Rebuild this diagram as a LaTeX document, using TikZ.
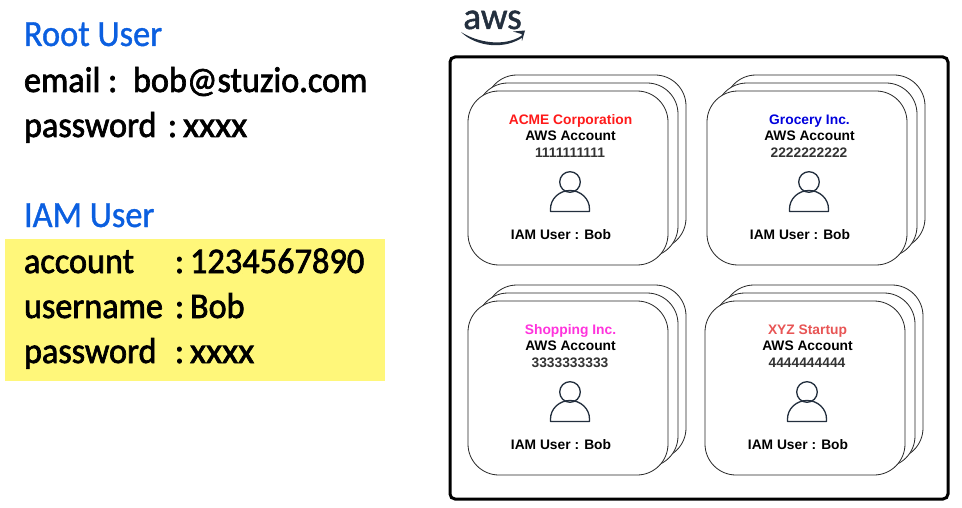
\documentclass[tikz,border=0pt]{standalone}
\usepackage{fontspec}
\setmainfont{Liberation Sans}
\newfontfamily\leftfont[FakeBold=1.9,FakeStretch=0.95]{Carlito}
\newfontfamily\digitfont[FakeBold=1.9,FakeStretch=0.955]{Carlito}
\newfontfamily\xfont[FakeBold=1.9,FakeStretch=1.03]{Carlito}
\newfontfamily\headfont[FakeBold=1,FakeStretch=0.93]{Carlito}
\newfontfamily\logofont[FakeBold=1.2,FakeStretch=0.98]{Carlito}
\definecolor{headblue}{HTML}{0B5FE0}
\definecolor{hilite}{HTML}{FFF77A}
\definecolor{awsink}{HTML}{232F3E}
\definecolor{acme}{HTML}{FF1A1A}
\definecolor{grocery}{HTML}{0000DD}
\definecolor{shopping}{HTML}{FF33DD}
\definecolor{xyz}{HTML}{E85555}
\definecolor{numgray}{HTML}{333333}
\tikzset{
  x=1pt,y=-1pt,
  heading/.style={anchor=base west,inner sep=0pt,outer sep=0pt,text=headblue,font=\headfont\fontsize{37}{37}\selectfont},
  leftline/.style={anchor=base west,inner sep=0pt,outer sep=0pt,text=black,font=\leftfont\fontsize{36}{36}\selectfont},
  sheet/.style={draw=black!85,fill=white,line width=0.8pt,rounded corners=31pt},
  cardtext/.style={anchor=base,inner sep=0pt,outer sep=0pt,font=\bfseries\fontsize{13.8}{13.8}\selectfont},
  usericon/.style={draw=awsink,line width=1.3pt},
}
% #1 name, #2 left x, #3 top y, #4 org text, #5 org colour, #6 number
\newcommand{\accountcard}[6]{%
  \begin{scope}[shift={(#2,#3)}]
    \path[sheet] (18,-16) rectangle (218,158);
    \path[sheet] (9,-8) rectangle (210,166);
    \path[sheet] (0,0) rectangle (200,174);
    \node[cardtext,text=#5] (#1org) at (102.5,33.5) {#4};
    \node[cardtext,text=black] (#1acc) at (102.5,49.5) {AWS Account};
    \node[cardtext,text=numgray] (#1num) at (102,66.5) {#6};
    \draw[usericon] (102,91) circle (10.3);
    \draw[usericon,line join=round] (82.5,120.5) -- (82.5,118) arc[start angle=180,end angle=360,x radius=19.5,y radius=18.5] -- (121.5,120.5) -- cycle;
    \node[cardtext,text=black] (#1usr) at (93,148.5) {IAM User : Bob};
  \end{scope}}
\begin{document}
\begin{tikzpicture}
\useasboundingbox (0,0) rectangle (962,508);
\fill[white] (0,0) rectangle (962,508);
\fill[hilite] (5,239) rectangle (385,381);
\node[heading] (root) at (24,46) {Root User};
\node[leftline] (email) at (24,92) {\makebox[109pt][l]{email\ :}bob@stuzio.com};
\node[leftline] (pw) at (24,137) {\makebox[144pt][l]{password}\makebox[15pt][l]{:}{\xfont xxxx}};
\node[heading] (iam) at (24,227) {IAM User};
\node[leftline] (acct) at (24,273) {\makebox[151pt][l]{account}\makebox[15pt][l]{:}{\digitfont 1234567890}};
\node[leftline] (uname) at (24,318) {\makebox[151pt][l]{username}\makebox[15pt][l]{:}Bob};
\node[leftline] (pw2) at (24,363) {\makebox[151pt][l]{password}\makebox[15pt][l]{:}{\xfont xxxx}};
% aws logo
\node[anchor=base,inner sep=0pt,text=awsink,font=\logofont\fontsize{38}{38}\selectfont] (aws) at (492.5,29) {aws};
\fill[awsink] (461,32) .. controls (478,43) and (505,47) .. (522,35.5) -- (523,37) .. controls (505,50) and (476,47) .. cycle;
\fill[awsink] (513,31.5) -- (525,30.5) -- (522,41) -- (521.5,34) -- cycle;
% frame
\draw[black,line width=3pt,rounded corners=5pt] (450,57) rectangle (948,499);
\accountcard{a}{468}{91}{ACME Corporation}{acme}{1111111111}
\accountcard{b}{707}{91}{Grocery Inc.}{grocery}{2222222222}
\accountcard{c}{468}{301}{Shopping Inc.}{shopping}{3333333333}
\accountcard{d}{705}{301}{XYZ Startup}{xyz}{4444444444}
\end{tikzpicture}
\end{document}
